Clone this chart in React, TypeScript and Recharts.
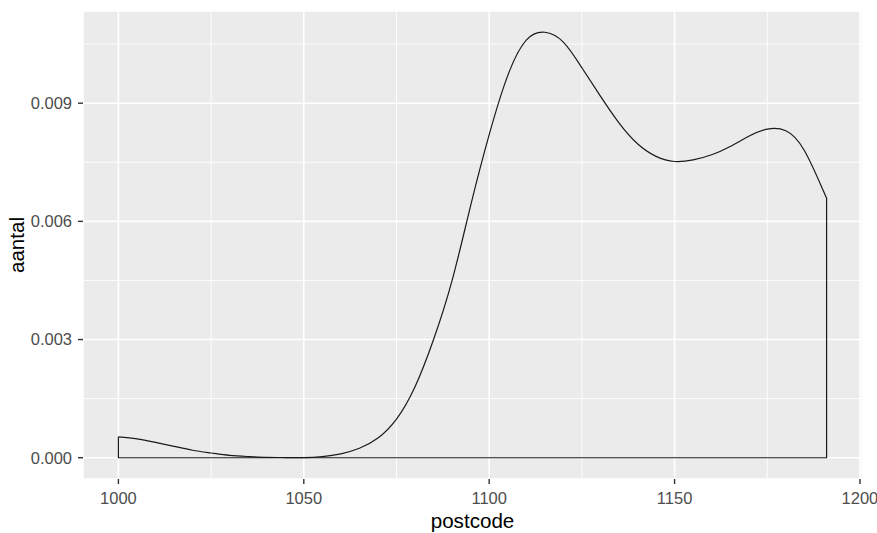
import React from 'react';
import { LineChart, Line, XAxis, YAxis, CartesianGrid, ReferenceLine, Label } from 'recharts';

// density estimate of postcode
const postcodes = [
  1000, 1005, 1010, 1015, 1020, 1025, 1030, 1035, 1040, 1045, 1050, 1055, 1060, 1065, 1070,
  1075, 1080, 1085, 1090, 1095, 1100, 1105, 1110, 1115, 1120, 1125, 1130, 1135, 1140, 1145,
  1150, 1155, 1160, 1165, 1170, 1175, 1180, 1185, 1190, 1191,
];
const aantal = [
  0.00053, 0.00048, 0.00039, 0.00029, 0.00019, 0.00012, 0.00006, 0.00003, 0.00001, 0.000005,
  0.000005, 0.00003, 0.0001, 0.00024, 0.0005, 0.00098, 0.0018, 0.003, 0.0045, 0.0064,
  0.0082, 0.0097, 0.0106, 0.0108, 0.01055, 0.0099, 0.00918, 0.0085, 0.00797, 0.00765,
  0.00752, 0.00756, 0.00769, 0.0079, 0.00816, 0.00834, 0.0083, 0.0078, 0.0068, 0.0066,
];

const xTicks = [1000, 1050, 1100, 1150, 1200];
const xMinor = [1025, 1075, 1125, 1175];
const yTicks = [0, 0.003, 0.006, 0.009];
const yMinor = [0.0015, 0.0045, 0.0075, 0.0105];

const curve = postcodes.map((x, i) => ({ x, y: aantal[i] }));

// closing edges of the density polygon (ggplot draws the outline down to zero)
const first = curve[0];
const last = curve[curve.length - 1];
const outline = [
  { x: first.x, y: first.y },
  { x: first.x, y: 0 },
  { x: last.x, y: 0 },
  { x: last.x, y: last.y },
];

const FONT = '"Liberation Sans", Arial, sans-serif';
const tickStyle = { fill: '#4D4D4D', fontSize: 16.5, fontFamily: FONT };

export default function App() {
  return (
    <div style={{ position: 'absolute', left: 0, top: 0, width: 877, height: 533, background: '#fff' }}>
      <LineChart width={877} height={533} margin={{ top: 11, right: 15, left: 0, bottom: 0 }}>
        <CartesianGrid stroke="#FFFFFF" strokeWidth={1.6} fill="#EBEBEB" fillOpacity={1} />
        {xMinor.map((v) => (
          <ReferenceLine key={'xm' + v} x={v} stroke="#FFFFFF" strokeWidth={0.9} />
        ))}
        {yMinor.map((v) => (
          <ReferenceLine key={'ym' + v} y={v} stroke="#FFFFFF" strokeWidth={0.9} />
        ))}
        <XAxis
          type="number"
          dataKey="x"
          domain={[990.45, 1200.55]}
          ticks={xTicks}
          allowDataOverflow
          height={54}
          axisLine={false}
          tickLine={{ stroke: '#333333', strokeWidth: 1.4 }}
          tickSize={5}
          tickMargin={8}
          tick={tickStyle}
          interval={0}
        >
          <Label
            content={({ viewBox }: any) => (
              <text
                x={viewBox.x + viewBox.width / 2}
                y={528}
                textAnchor="middle"
                fill="#000"
                fontSize={20.6}
                fontFamily={FONT}
              >
                postcode
              </text>
            )}
          />
        </XAxis>
        <YAxis
          type="number"
          dataKey="y"
          domain={[-0.00054, 0.01134]}
          ticks={yTicks}
          allowDataOverflow
          width={83}
          axisLine={false}
          tickLine={{ stroke: '#333333', strokeWidth: 1.4 }}
          tickSize={5}
          tickMargin={6}
          tick={tickStyle}
          tickFormatter={(v: number) => v.toFixed(3)}
          interval={0}
        >
          <Label
            content={({ viewBox }: any) => {
              const cx = 17;
              const cy = viewBox.y + viewBox.height / 2;
              return (
                <text
                  x={cx}
                  y={cy}
                  dy="0.35em"
                  textAnchor="middle"
                  transform={`rotate(-90, ${cx}, ${cy})`}
                  fill="#000"
                  fontSize={20.6}
                  fontFamily={FONT}
                >
                  aantal
                </text>
              );
            }}
          />
        </YAxis>
        <Line
          data={curve}
          dataKey="y"
          type="natural"
          stroke="#1a1a1a"
          strokeWidth={1.2}
          dot={false}
          activeDot={false}
          isAnimationActive={false}
        />
        <Line
          data={outline}
          dataKey="y"
          type="linear"
          stroke="#1a1a1a"
          strokeWidth={1.2}
          dot={false}
          activeDot={false}
          isAnimationActive={false}
        />
      </LineChart>
    </div>
  );
}
